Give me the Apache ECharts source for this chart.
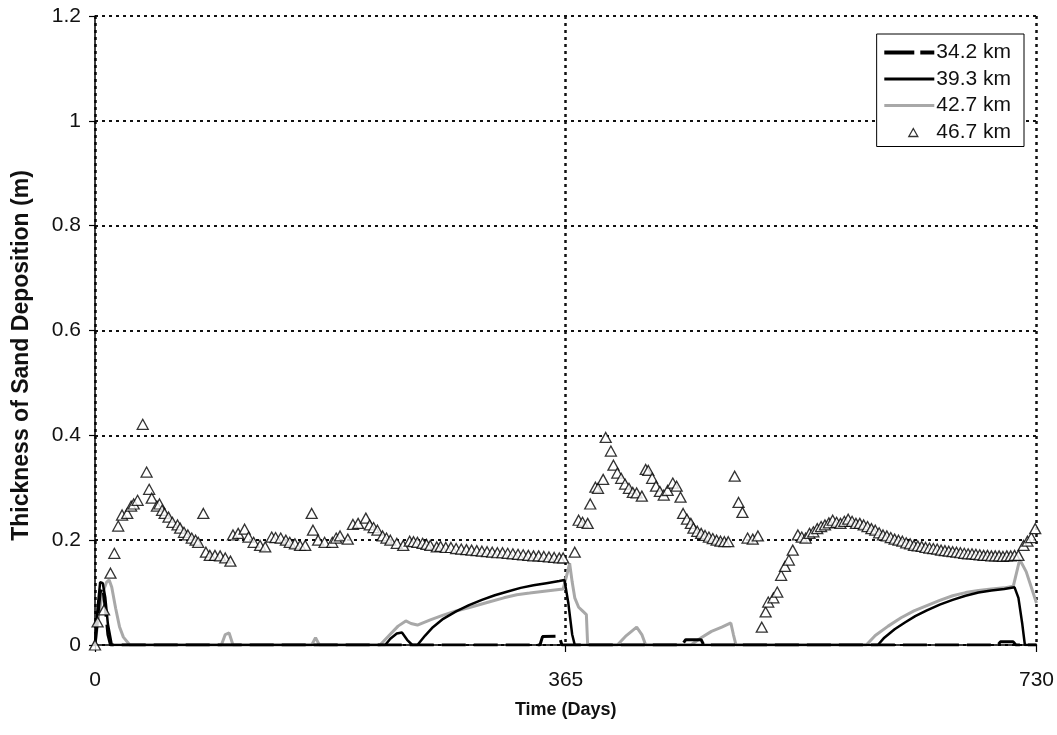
<!DOCTYPE html>
<html>
<head>
<meta charset="utf-8">
<script src="https://cdn.jsdelivr.net/npm/echarts@6/dist/echarts.min.js"></script>
<style>
html,body{margin:0;padding:0;background:#fff;}
#chart{width:1057px;height:735px;}
</style>
</head>
<body>
<div id="chart"></div>
<script>
// ---- data (day, thickness in m) ----
var xTicks = [0, 365, 730];
var yTicks = [0, 0.2, 0.4, 0.6, 0.8, 1, 1.2];
var seriesNames = ['34.2 km', '39.3 km', '42.7 km', '46.7 km'];

var km342 = [
  [0,0],[2,0.05],[4,0.1],[6,0.11],[8,0.07],[10,0.02],[12,0],
  [345,0],[347,0.016],[360,0.017],[362,0],
  [455,0],[458,0.01],[470,0.01],[472,0],
  [700,0],[702,0.006],[712,0.006],[714,0],[730,0]
];

var km393 = [
  [0,0],[2,0.07],[4,0.12],[6,0.118],[8,0.09],[10,0.04],[13,0],
  [225,0],[229,0.012],[234,0.022],[238,0.024],[242,0.01],[246,0],
  [250,0],[256,0.018],[262,0.034],[270,0.05],[280,0.064],[290,0.076],[300,0.086],
  [310,0.095],[320,0.102],[330,0.109],[340,0.114],[350,0.118],[360,0.122],[364,0.124],
  [367,0.08],[370,0.02],[372,0],
  [607,0],[612,0.014],[620,0.03],[628,0.043],[636,0.055],[645,0.066],[655,0.077],
  [665,0.086],[675,0.094],[685,0.1],[695,0.104],[705,0.107],[713,0.11],
  [716,0.09],[719,0.04],[721,0],[730,0]
];

var km427 = [
  [0,0],[3,0.06],[6,0.1],[9,0.12],[11,0.124],[13,0.11],[16,0.07],[19,0.035],[22,0.015],[27,0],
  [98,0],[101,0.02],[104,0.023],[107,0],[168,0],[171,0.014],[174,0],
  [221,0],[228,0.018],[235,0.036],[241,0.046],[245,0.041],[250,0.038],
  [260,0.048],[270,0.057],[280,0.065],[291,0.072],[304,0.081],[317,0.09],
  [327,0.096],[337,0.099],[350,0.103],[363,0.107],[366,0.135],[368,0.156],
  [370,0.12],[372,0.09],[375,0.072],[378,0.065],[381,0.058],[382,0],
  [405,0],[412,0.018],[420,0.034],[424,0.02],[427,0],
  [462,0],[470,0.014],[478,0.026],[486,0.034],[493,0.042],[495,0.02],[497,0],
  [598,0],[605,0.018],[615,0.036],[625,0.052],[635,0.065],[645,0.075],[655,0.085],
  [665,0.094],[675,0.1],[685,0.104],[695,0.107],[705,0.109],[712,0.112],
  [717,0.163],[722,0.14],[726,0.11],[730,0.08]
];

var km467 = [
  [0,0],[2,0.044],[7,0.067],[12,0.137],[15,0.175],[18,0.227],[21,0.248],[25,0.251],
  [28,0.265],[30,0.269],[33,0.276],[37,0.421],[40,0.33],[42,0.297],[44,0.28],
  [48,0.265],[50,0.269],[52,0.257],[54,0.251],[57,0.244],[60,0.234],[64,0.229],
  [66,0.223],[69,0.215],[72,0.21],[75,0.204],[78,0.2],[80,0.196],[84,0.251],
  [86,0.177],[89,0.171],[93,0.171],[97,0.17],[101,0.166],[105,0.16],[107,0.21],
  [111,0.213],[116,0.221],[119,0.206],[123,0.196],[128,0.19],[132,0.187],[137,0.206],
  [140,0.205],[144,0.204],[148,0.2],[151,0.196],[155,0.193],[159,0.19],[163,0.19],
  [168,0.251],[169,0.219],[173,0.2],[178,0.196],[184,0.196],[187,0.204],[190,0.208],
  [196,0.202],[200,0.23],[204,0.232],[210,0.242],[213,0.229],[216,0.224],[219,0.219],
  [223,0.208],[226,0.204],[229,0.2],[234,0.194],[239,0.19],[244,0.198],[247,0.197],
  [250,0.196],[254,0.194],[257,0.192],[260,0.19],[265,0.187],[268,0.188],[272,0.186],
  [276,0.186],[280,0.184],[284,0.183],[288,0.182],[292,0.181],[296,0.18],[300,0.179],
  [304,0.178],[308,0.177],[312,0.176],[316,0.176],[320,0.175],[324,0.174],[328,0.173],
  [332,0.172],[336,0.171],[340,0.17],[344,0.17],[348,0.169],[352,0.168],[356,0.167],
  [360,0.166],[363,0.166],
  [372,0.177],[375,0.238],[378,0.234],[382,0.232],[384,0.269],[388,0.301],[390,0.299],
  [394,0.316],[396,0.396],[400,0.37],[402,0.343],[405,0.328],[408,0.318],[411,0.307],
  [414,0.299],[417,0.291],[420,0.29],[424,0.284],[427,0.335],[429,0.333],[432,0.318],
  [435,0.303],[438,0.293],[441,0.286],[444,0.295],[448,0.309],[451,0.303],[454,0.282],
  [456,0.251],[459,0.24],[462,0.232],[464,0.223],[467,0.217],[470,0.213],[473,0.209],
  [476,0.206],[479,0.203],[482,0.2],[485,0.198],[488,0.197],[491,0.197],
  [496,0.322],[499,0.272],[502,0.253],[506,0.204],[510,0.202],[514,0.208],
  [517,0.034],[520,0.063],[522,0.082],[526,0.09],[529,0.101],[532,0.133],[535,0.15],
  [538,0.162],[541,0.181],[545,0.21],[548,0.206],[551,0.204],[554,0.213],[557,0.216],
  [560,0.222],[563,0.226],[566,0.229],[569,0.233],[572,0.238],[575,0.234],[578,0.232],
  [581,0.236],[584,0.24],[587,0.236],[590,0.232],[593,0.232],[596,0.229],[599,0.226],
  [602,0.222],[605,0.219],[608,0.214],[611,0.21],[614,0.208],[617,0.205],[620,0.202],
  [623,0.2],[626,0.198],[629,0.195],[632,0.193],[635,0.19],[638,0.189],[641,0.188],
  [644,0.186],[647,0.185],[650,0.184],[653,0.183],[656,0.181],[659,0.18],[662,0.179],
  [665,0.178],[668,0.177],[671,0.176],[674,0.175],[677,0.174],[680,0.174],[683,0.173],
  [686,0.172],[689,0.171],[692,0.171],[695,0.17],[698,0.17],[701,0.17],[704,0.169],
  [707,0.17],[710,0.17],[713,0.171],[716,0.171],[720,0.19],[723,0.198],[726,0.205],
  [729,0.222]
];

var FONT = '"Liberation Sans", Arial, sans-serif';
var chart = echarts.init(document.getElementById('chart'), null, {renderer: 'canvas'});

var GRAY = '#a8a8a8';
var option = {
  backgroundColor: '#ffffff',
  animation: false,
  grid: {left: 95, right: 20, top: 16, bottom: 90, containLabel: false},
  legend: {
    orient: 'vertical',
    right: 33, top: 34,
    backgroundColor: '#fff',
    borderColor: '#000', borderWidth: 1,
    padding: [8, 13, 4, 7],
    itemWidth: 50, itemHeight: 12, itemGap: 5.5,
    symbolKeepAspect: true,
    textStyle: {fontFamily: FONT, fontSize: 21, color: '#111', padding: [0, 0, 0, -3]},
    data: [
      {name: seriesNames[0], icon: 'path://M0,0 H30 V4 H0 Z M36,0 H50 V4 H36 Z',
        itemStyle: {color: '#000', borderWidth: 0}},
      {name: seriesNames[1], icon: 'path://M0,0 H50 V3 H0 Z',
        itemStyle: {color: '#000', borderWidth: 0}},
      {name: seriesNames[2], icon: 'path://M0,0 H50 V3 H0 Z',
        itemStyle: {color: GRAY, borderWidth: 0}},
      {name: seriesNames[3], icon: 'path://M0,0 M29,2.5 L33.5,10.5 L24.5,10.5 Z M50,12',
        itemStyle: {color: '#fff', borderColor: '#000', borderWidth: 1.3}}
    ]
  },
  xAxis: {
    type: 'value', min: 0, max: 730, interval: 365,
    name: 'Time (Days)', nameLocation: 'middle', nameGap: 56,
    nameTextStyle: {fontFamily: FONT, fontSize: 18, fontWeight: 'bold', color: '#111'},
    axisLine: {show: true, onZero: false, lineStyle: {color: '#000', width: 1.5}},
    axisTick: {show: true, length: 7, lineStyle: {color: '#000', width: 1.2}},
    axisLabel: {fontFamily: FONT, fontSize: 21, color: '#111', margin: 25,
      formatter: function (v) { return xTicks.indexOf(v) >= 0 ? String(v) : ''; }},
    splitLine: {show: true, lineStyle: {color: '#111', width: 2.5, type: [3, 4]}}
  },
  yAxis: {
    type: 'value', min: 0, max: 1.2, interval: 0.2,
    name: 'Thickness of Sand Deposition (m)', nameLocation: 'middle', nameGap: 62,
    nameTextStyle: {fontFamily: FONT, fontSize: 23, fontWeight: 'bold', color: '#111',
      padding: [0, 50, 0, 0]},
    axisLine: {show: true, lineStyle: {color: '#000', width: 1.5}},
    axisTick: {show: true, length: 6, lineStyle: {color: '#000', width: 1.2}},
    axisLabel: {fontFamily: FONT, fontSize: 21, color: '#111', margin: 14,
      formatter: function (v) {
        for (var i = 0; i < yTicks.length; i++) if (Math.abs(yTicks[i] - v) < 1e-9) return String(yTicks[i]);
        return '';
      }},
    splitLine: {show: true, lineStyle: {color: '#111', width: 2, type: [3, 4]}}
  },
  series: [
    {name: seriesNames[0], type: 'line', data: km342, symbol: 'none', z: 3,
      lineStyle: {color: '#000', width: 3, type: [24, 8]}, itemStyle: {color: '#000'}},
    {name: seriesNames[1], type: 'line', data: km393, symbol: 'none', z: 4,
      lineStyle: {color: '#000', width: 2.5}, itemStyle: {color: '#000'}},
    {name: seriesNames[2], type: 'line', data: km427, symbol: 'none', z: 2,
      lineStyle: {color: GRAY, width: 3}, itemStyle: {color: GRAY}},
    {name: seriesNames[3], type: 'scatter', data: km467, symbol: 'triangle', symbolSize: [11, 10], z: 5,
      itemStyle: {color: '#fff', borderColor: '#000', borderWidth: 1.3}}
  ]
};
chart.setOption(option);
</script>
</body>
</html>
